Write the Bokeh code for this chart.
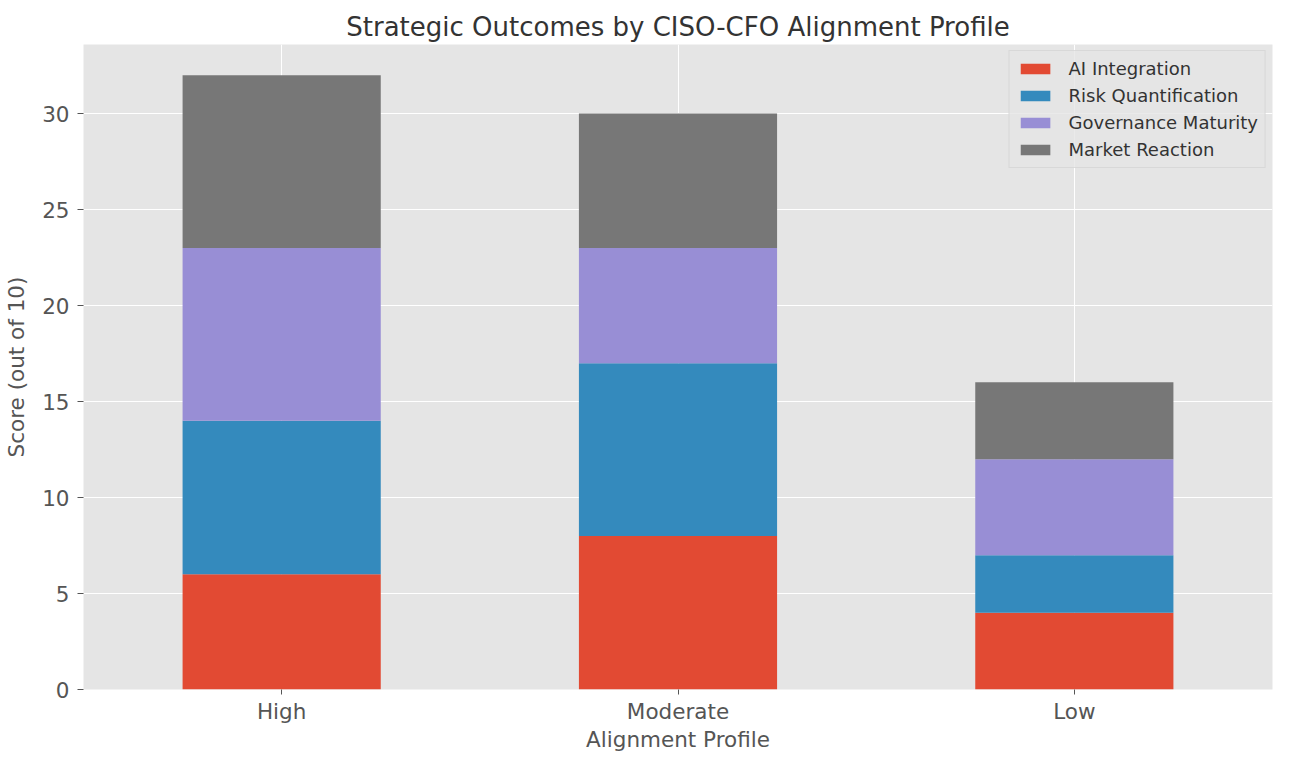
from bokeh.plotting import figure
from bokeh.models import ColumnDataSource, Legend, LegendItem, FixedTicker, Range1d
from bokeh.embed import file_html
from bokeh.resources import INLINE

profiles = ["High", "Moderate", "Low"]
series = ["AI Integration", "Risk Quantification", "Governance Maturity", "Market Reaction"]
ai_integration = [6, 8, 4]
risk_quantification = [8, 9, 3]
governance_maturity = [9, 6, 5]
market_reaction = [9, 7, 4]
colors = ["#E24A33", "#348ABD", "#988ED5", "#777777"]
y_ticks = [0, 5, 10, 15, 20, 25, 30]

data = {"profile": profiles,
        "AI Integration": ai_integration,
        "Risk Quantification": risk_quantification,
        "Governance Maturity": governance_maturity,
        "Market Reaction": market_reaction}
source = ColumnDataSource(data)

FONT = "DejaVu Sans"
p = figure(x_range=profiles, width=1276, height=754, output_backend="svg",
           toolbar_location=None, title="Strategic Outcomes by CISO-CFO Alignment Profile")
p.y_range = Range1d(0, 33.6)
p.x_range.range_padding = 0
p.min_border_left = 83
p.min_border_right = 4
p.min_border_top = 44
p.min_border_bottom = 61
p.background_fill_color = "#E5E5E5"
p.border_fill_color = "white"
p.outline_line_color = None

p.title.text_font = FONT
p.title.text_font_size = "26px"
p.title.text_font_style = "normal"
p.title.text_color = "#333333"
p.title.align = "center"
p.title.standoff = 6

renderers = p.vbar_stack(series, x="profile", width=0.5, source=source,
                         color=colors, line_color=None)

p.xgrid.grid_line_color = "white"
p.ygrid.grid_line_color = "white"
p.xgrid.grid_line_width = 1
p.ygrid.grid_line_width = 1

for ax in (p.xaxis, p.yaxis):
    ax.axis_line_color = None
    ax.major_tick_line_color = "#555555"
    ax.major_tick_in = 0
    ax.major_tick_out = 6
    ax.minor_tick_line_color = None
    ax.major_label_text_font = FONT
    ax.major_label_text_font_size = "21.5px"
    ax.major_label_text_color = "#555555"
    ax.axis_label_text_font = FONT
    ax.axis_label_text_font_size = "21.5px"
    ax.axis_label_text_color = "#555555"
    ax.axis_label_text_font_style = "normal"

p.yaxis.ticker = FixedTicker(ticks=y_ticks)
p.yaxis.axis_label = "Score (out of 10)"
p.xaxis.axis_label = "Alignment Profile"
p.yaxis.major_label_standoff = 8
p.xaxis.major_tick_out = 5
p.xaxis.major_label_standoff = 4
p.yaxis.axis_label_standoff = 10
p.xaxis.axis_label_standoff = 0

legend = Legend(items=[LegendItem(label=s, renderers=[r]) for s, r in zip(series, renderers)],
                location="top_right")
legend.label_text_font = FONT
legend.label_text_font_size = "18px"
legend.label_text_color = "#333333"
legend.background_fill_color = "#E5E5E5"
legend.background_fill_alpha = 0.8
legend.border_line_color = "#CCCCCC"
legend.glyph_width = 37
legend.glyph_height = 13
legend.label_height = 18
legend.label_standoff = 15
legend.spacing = 6
legend.padding = 7
legend.margin = 6
p.add_layout(legend)

open("out.html", "w").write(file_html(p, INLINE))
